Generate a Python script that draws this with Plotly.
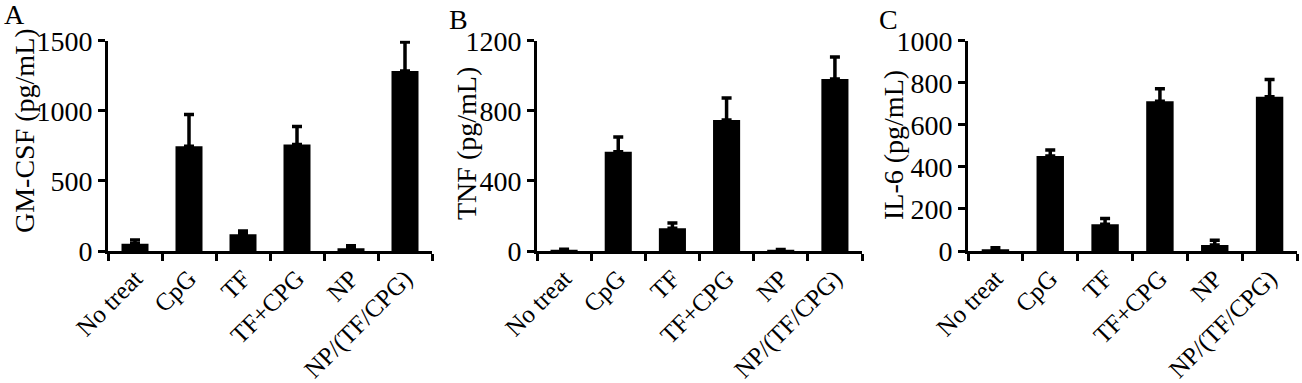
import plotly.graph_objects as go

categories = ["No treat", "CpG", "TF", "TF+CPG", "NP", "NP/(TF/CPG)"]

gmcsf_mean = [52, 748, 119, 760, 19, 1284]
gmcsf_top = [78, 974, 142, 888, 38, 1490]

tnf_mean = [5, 567, 130, 748, 5, 982]
tnf_top = [10, 651, 160, 873, 9, 1107]

il6_mean = [8, 452, 127, 712, 29, 734]
il6_top = [15, 480, 155, 772, 51, 815]

panels = [
    ("A", "GM-CSF (pg/mL)", gmcsf_mean, gmcsf_top, [0, 1500], [0, 500, 1000, 1500]),
    ("B", "TNF (pg/mL)", tnf_mean, tnf_top, [0, 1200], [0, 400, 800, 1200]),
    ("C", "IL-6 (pg/mL)", il6_mean, il6_top, [0, 1000], [0, 200, 400, 600, 800, 1000]),
]

W, H = 1302, 383
FONT = "Liberation Serif, Times New Roman, serif"
FS = 28
FSX = 25

# pixel layout (left, right) of each plot area, shared top/bottom
x_px = [(108, 432), (537, 862), (968, 1297)]
y_top_px, y_bot_px = 40.7, 251
title_pos = [(24, 131), (466, 144), (893, 145)]
letter_pos = [(14, 15), (458, 19), (889, 19)]

fig = go.Figure()
annotations = []
for i, (letter, ytitle, mean, top, yr, yt) in enumerate(panels):
    n = i + 1
    xa = "x" if n == 1 else f"x{n}"
    ya = "y" if n == 1 else f"y{n}"
    err = [t - m for t, m in zip(top, mean)]
    fig.add_trace(go.Bar(
        x=categories, y=mean, xaxis=xa, yaxis=ya,
        marker=dict(color="black", line=dict(width=0)),
        width=0.5,
        error_y=dict(type="data", symmetric=False, array=err,
                     arrayminus=[0] * len(err), color="black",
                     thickness=3.5, width=5),
        showlegend=False,
    ))
    xl, xr = x_px[i]
    xdom = [xl / W, xr / W]
    ydom = [1 - y_bot_px / H, 1 - y_top_px / H]
    fig.update_layout(**{
        ("xaxis" if n == 1 else f"xaxis{n}"): dict(
            domain=xdom, anchor=ya, type="category", automargin=False,
            range=[-0.5, 5.5], showline=True, linewidth=3, linecolor="black",
            ticks="outside", ticklen=7, tickwidth=3, tickcolor="black",
            tickson="boundaries", tickangle=-45, showgrid=False,
            tickfont=dict(family=FONT, size=FSX, color="black"),
            zeroline=False,
        ),
        ("yaxis" if n == 1 else f"yaxis{n}"): dict(
            domain=ydom, anchor=xa, range=yr, tickvals=yt, automargin=False,
            showline=True, linewidth=3, linecolor="black",
            ticks="outside", ticklen=7, tickwidth=3, tickcolor="black",
            showgrid=False, zeroline=False,
            tickfont=dict(family=FONT, size=FS, color="black"),
        ),
    })
    tx, ty = title_pos[i]
    annotations.append(dict(
        text=ytitle, x=tx / W, y=1 - ty / H, xref="paper", yref="paper",
        textangle=-90, showarrow=False, xanchor="center", yanchor="middle",
        font=dict(family=FONT, size=FS, color="black"),
    ))
    lx, ly = letter_pos[i]
    annotations.append(dict(
        text=letter, x=lx / W, y=1 - ly / H, xref="paper", yref="paper",
        showarrow=False, xanchor="center", yanchor="middle",
        font=dict(family=FONT, size=FS, color="black"),
    ))

fig.update_layout(
    width=W, height=H, margin=dict(l=0, r=0, t=0, b=0, autoexpand=False),
    paper_bgcolor="white", plot_bgcolor="white",
    annotations=annotations, bargap=0.5,
)

fig.write_html(
    "out.html",
    config={"displayModeBar": False},
    post_script="document.body.style.margin='0';document.body.style.overflow='hidden';",
)
